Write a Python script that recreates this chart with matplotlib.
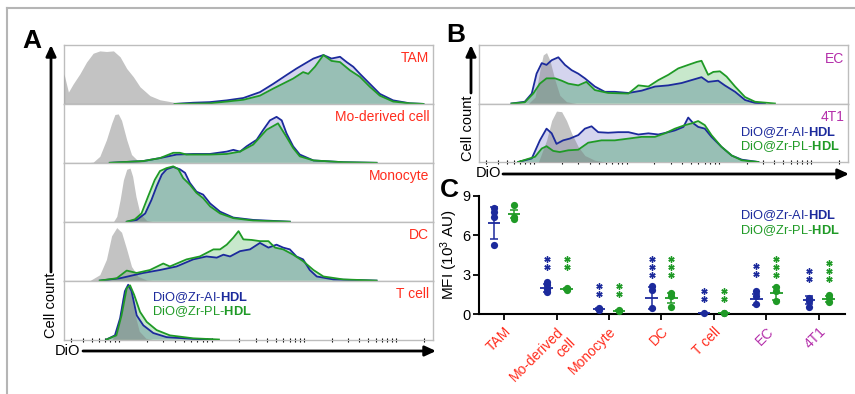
import numpy as np
import matplotlib
matplotlib.use("Agg")
import matplotlib.pyplot as plt
import matplotlib.transforms as mtransforms
from matplotlib.patches import FancyArrowPatch, Polygon
from matplotlib.lines import Line2D

plt.rcParams['font.family'] = ['Liberation Sans', 'DejaVu Sans']
plt.rcParams['mathtext.fontset'] = 'custom'
plt.rcParams['mathtext.rm'] = 'Liberation Sans'
plt.rcParams['mathtext.it'] = 'Liberation Sans:italic'
plt.rcParams['mathtext.bf'] = 'Liberation Sans:bold'
plt.rcParams['mathtext.default'] = 'regular'

# ---------------- data: panel A histograms (x: DiO channel 0-1000, y: % of max count) -------------
tam_gray_x = [0, 12, 25, 43, 61, 79, 97, 115, 134, 152, 170, 188, 206, 233, 260, 305, 370]
tam_gray_y = [51, 20, 34, 51, 71, 86, 90, 89, 90, 80, 60, 46, 29, 14, 7, 2, 0]
tam_blue_x = [300, 350, 395, 441, 486, 531, 567, 603, 630, 657, 676, 703, 725, 748, 766, 784, 802, 829, 856, 892, 937, 974]
tam_blue_y = [0, 2, 3, 6, 10, 20, 34, 49, 60, 70, 77, 83, 77, 80, 71, 63, 51, 34, 17, 6, 1, 0]
tam_green_x = [300, 395, 441, 486, 531, 567, 621, 648, 662, 680, 703, 725, 748, 775, 802, 829, 856, 892, 937, 974]
tam_green_y = [0, 1, 4, 7, 14, 26, 43, 54, 51, 63, 83, 73, 71, 57, 46, 29, 14, 4, 1, 0]

mo_gray_x = [60, 79, 97, 115, 129, 138, 147, 156, 170, 183, 201, 224]
mo_gray_y = [0, 1, 11, 39, 67, 82, 83, 72, 39, 14, 3, 0]
mo_blue_x = [124, 215, 260, 305, 350, 395, 441, 459, 477, 495, 522, 540, 558, 576, 590, 603, 621, 639, 676, 757, 847]
mo_blue_y = [0, 3, 8, 14, 15, 15, 19, 22, 19, 28, 39, 56, 72, 78, 72, 50, 28, 14, 4, 1, 0]
mo_green_x = [124, 215, 260, 296, 314, 332, 395, 441, 477, 513, 549, 580, 603, 621, 639, 676, 757, 847]
mo_green_y = [0, 3, 8, 17, 17, 14, 14, 15, 19, 31, 56, 67, 44, 25, 11, 4, 1, 0]

mono_gray_x = [134, 143, 152, 161, 170, 179, 186, 195, 206, 224, 242]
mono_gray_y = [0, 9, 37, 71, 89, 91, 77, 43, 14, 2, 0]
mono_blue_x = [170, 197, 220, 237, 251, 265, 278, 296, 314, 328, 341, 359, 377, 396, 423, 459, 513, 612]
mono_blue_y = [0, 3, 14, 37, 60, 80, 89, 93, 89, 83, 66, 51, 46, 31, 17, 7, 3, 0]
mono_green_x = [170, 192, 210, 228, 246, 260, 278, 296, 310, 323, 341, 359, 377, 396, 423, 459, 513, 612]
mono_green_y = [0, 4, 14, 43, 71, 86, 91, 94, 89, 74, 63, 49, 40, 26, 14, 6, 2, 0]

dc_gray_x = [70, 97, 115, 129, 143, 156, 170, 183, 201, 224, 242]
dc_gray_y = [0, 10, 36, 76, 90, 82, 53, 24, 7, 1, 0]
dc_blue_x = [97, 152, 215, 260, 305, 350, 386, 414, 432, 450, 477, 504, 531, 554, 576, 594, 612, 630, 648, 666, 685, 730, 847]
dc_blue_y = [0, 4, 13, 18, 24, 36, 41, 39, 44, 41, 50, 53, 64, 56, 61, 56, 53, 41, 36, 18, 7, 2, 0]
dc_green_x = [97, 143, 170, 197, 233, 269, 287, 332, 368, 405, 423, 441, 459, 473, 486, 509, 531, 554, 572, 594, 621, 648, 676, 703, 757, 847]
dc_green_y = [0, 4, 17, 13, 18, 29, 24, 36, 41, 53, 53, 61, 73, 84, 70, 69, 67, 67, 56, 53, 44, 33, 18, 7, 2, 0]

tc_gray_x = [130, 140, 150, 158, 166, 174, 182, 192, 204, 222, 240]
tc_gray_y = [0, 9, 37, 71, 89, 91, 77, 43, 14, 2, 0]
tc_blue_x = [115, 138, 152, 165, 174, 183, 197, 215, 242, 278, 350, 400]
tc_blue_y = [0, 7, 36, 82, 93, 82, 41, 24, 11, 4, 1, 0]
tc_green_x = [115, 142, 156, 170, 179, 190, 206, 224, 251, 287, 350, 420]
tc_green_y = [0, 7, 41, 87, 92, 76, 47, 30, 16, 7, 2, 0]

# ---------------- data: panel B histograms ----------------
ec_gray_x = [134, 152, 165, 174, 183, 192, 206, 219, 237, 264]
ec_gray_y = [0, 11, 57, 83, 87, 74, 40, 14, 3, 0]
ec_blue_x = [88, 124, 143, 156, 170, 183, 197, 215, 233, 251, 269, 287, 314, 341, 368, 405, 441, 477, 513, 549, 576, 603, 621, 648, 666, 694, 721, 748, 775]
ec_blue_y = [0, 3, 17, 51, 69, 66, 74, 79, 66, 57, 51, 43, 29, 20, 20, 18, 22, 29, 31, 35, 40, 45, 37, 39, 31, 20, 6, 1, 0]
ec_green_x = [88, 124, 147, 165, 183, 206, 224, 242, 269, 291, 314, 350, 405, 432, 459, 486, 513, 540, 567, 590, 603, 621, 635, 653, 671, 694, 721, 748, 802]
ec_green_y = [0, 2, 17, 34, 43, 43, 39, 34, 31, 37, 23, 18, 17, 31, 29, 40, 49, 60, 66, 71, 73, 49, 54, 55, 46, 29, 11, 3, 0]

t41_gray_x = [161, 183, 197, 210, 224, 237, 251, 269, 287, 314, 341]
t41_gray_y = [0, 37, 71, 87, 86, 71, 49, 26, 11, 3, 0]
t41_blue_x = [106, 143, 165, 183, 197, 210, 228, 246, 269, 287, 305, 323, 350, 377, 405, 432, 459, 486, 513, 531, 554, 567, 581, 594, 612, 630, 657, 685, 712, 757]
t41_blue_y = [0, 6, 37, 57, 49, 31, 37, 40, 46, 57, 61, 51, 50, 51, 51, 47, 49, 47, 51, 54, 60, 76, 66, 60, 57, 43, 26, 11, 4, 0]
t41_green_x = [106, 152, 170, 183, 201, 219, 242, 269, 296, 332, 368, 405, 441, 477, 504, 531, 558, 576, 594, 612, 630, 657, 685, 712, 757]
t41_green_y = [0, 9, 23, 27, 19, 17, 20, 21, 33, 37, 37, 40, 43, 43, 49, 57, 63, 66, 70, 63, 46, 26, 11, 3, 0]

# ---------------- data: panel C (MFI, 10^3 AU) ----------------
categories = ['TAM', 'Mo-derived\ncell', 'Monocyte', 'DC', 'T cell', 'EC', '4T1']
cat_colors = ['red', 'red', 'red', 'red', 'red', 'purple', 'purple']
blue_points = [[8.05, 7.75, 7.4, 5.25], [2.45, 2.25, 1.9, 1.7], [0.43, 0.3], [2.15, 1.8, 0.48],
               [0.05], [1.75, 1.37, 0.74], [1.24, 0.99, 0.56]]
green_points = [[8.3, 7.42, 7.25], [1.98, 1.9, 1.85], [0.3, 0.23], [1.58, 1.37, 0.56],
                [0.05, 0.08], [2.08, 1.75, 0.99], [1.45, 1.2, 0.94]]
blue_mean = [6.97, 2.0, 0.37, 1.2, 0.05, 1.14, 1.04]
blue_err = [1.22, 0.3, 0.05, 0.85, 0.02, 0.42, 0.3]
green_mean = [7.63, 1.9, 0.25, 1.25, 0.06, 1.58, 1.14]
green_err = [0.3, 0.05, 0.04, 0.38, 0.02, 0.5, 0.2]
blue_stars = [0, 2, 2, 3, 2, 2, 2]
green_stars = [0, 2, 2, 3, 2, 3, 3]
blue_star_top = [0, 4.2, 2.1, 4.2, 1.75, 3.65, 3.3]
green_star_top = [0, 4.2, 2.1, 4.2, 1.75, 4.2, 3.9]

# ---------------- styling ----------------
W, H = 855, 394
RED = '#ff2d1e'
PURPLE = '#b42eaa'
BLUE = '#1c2a9c'
GREEN = '#1f9a26'
LAV = '#d4d4ee'
LGREEN = '#c8e8cc'
TEAL = '#98bfb5'
FRAME = '#bdbdbd'
label_col = {'red': RED, 'purple': PURPLE}

fig = plt.figure(figsize=(W / 100, H / 100), dpi=100)
fig.patch.set_facecolor('white')
T = mtransforms.Affine2D().scale(1 / W, -1 / H).translate(0, 1) + fig.transFigure


def rect(l, t, r, b):
    return [l / W, 1 - b / H, (r - l) / W, (b - t) / H]


def draw_hist(ax, gx, gy, bx, by, nx, ny):
    ax.fill_between(bx, by, 0, color=LAV, lw=0, zorder=1)
    ax.fill_between(nx, ny, 0, color=LGREEN, lw=0, zorder=2)
    bpoly = Polygon(np.column_stack([bx, by]), closed=True, transform=ax.transData)
    ov = ax.fill_between(nx, ny, 0, color=TEAL, lw=0, zorder=3)
    ov.set_clip_path(bpoly)
    ax.fill_between(gx, gy, 0, color='#808080', alpha=0.47, lw=0, zorder=4)
    ax.plot(bx, by, color=BLUE, lw=1.3, zorder=5)
    ax.plot(nx, ny, color=GREEN, lw=1.3, zorder=6)
    ax.set_xlim(0, 1000)
    ax.set_ylim(0, 100)
    ax.set_xticks([])
    ax.set_yticks([])
    for s in ax.spines.values():
        s.set_color(FRAME)
        s.set_linewidth(1.0)


def log_ticks(ax):
    decades = [-100, 150, 400, 650, 900]
    pos = []
    for d in decades:
        for m in range(1, 10):
            p = d + 250 * np.log10(m)
            if 0 < p < 1000:
                pos.append(p)
    ax.set_xticks(pos)
    ax.set_xticklabels([])
    ax.tick_params(axis='x', length=2.5, width=0.8, color='black', direction='inout')


# ---------------- panel A ----------------
rowsA = [
    ('TAM', tam_gray_x, tam_gray_y, tam_blue_x, tam_blue_y, tam_green_x, tam_green_y),
    ('Mo-derived cell', mo_gray_x, mo_gray_y, mo_blue_x, mo_blue_y, mo_green_x, mo_green_y),
    ('Monocyte', mono_gray_x, mono_gray_y, mono_blue_x, mono_blue_y, mono_green_x, mono_green_y),
    ('DC', dc_gray_x, dc_gray_y, dc_blue_x, dc_blue_y, dc_green_x, dc_green_y),
    ('T cell', tc_gray_x, tc_gray_y, tc_blue_x, tc_blue_y, tc_green_x, tc_green_y),
]
topA, hA = 45, 58.9
for i, (name, gx, gy, bx, by, nx, ny) in enumerate(rowsA):
    ax = fig.add_axes(rect(64, topA + i * hA, 433, topA + (i + 1) * hA))
    draw_hist(ax, gx, gy, bx, by, nx, ny)
    ax.text(0.99, 0.71, name, transform=ax.transAxes, ha='right', va='baseline',
            color=RED, fontsize=10)
    if i == len(rowsA) - 1:
        log_ticks(ax)

# ---------------- panel B ----------------
rowsB = [
    ('EC', ec_gray_x, ec_gray_y, ec_blue_x, ec_blue_y, ec_green_x, ec_green_y),
    ('4T1', t41_gray_x, t41_gray_y, t41_blue_x, t41_blue_y, t41_green_x, t41_green_y),
]
topB, hB = 45, 58.5
for i, (name, gx, gy, bx, by, nx, ny) in enumerate(rowsB):
    ax = fig.add_axes(rect(479, topB + i * hB, 848, topB + (i + 1) * hB))
    draw_hist(ax, gx, gy, bx, by, nx, ny)
    ax.text(0.99, 0.70, name, transform=ax.transAxes, ha='right', va='baseline',
            color=PURPLE, fontsize=10)
    if i == len(rowsB) - 1:
        log_ticks(ax)

# ---------------- legends ----------------
leg1 = 'DiO@Zr-AI-$\\mathbf{HDL}$'
leg2 = 'DiO@Zr-PL-$\\mathbf{HDL}$'
for (lx, b1, b2) in [(152, 301.5, 315.5), (740, 136.5, 150.5), (740, 219.5, 234)]:
    fig.text(lx, b1, leg1, transform=T, color=BLUE, fontsize=9.3, ha='left', va='baseline')
    fig.text(lx, b2, leg2, transform=T, color=GREEN, fontsize=9.3, ha='left', va='baseline')

# ---------------- arrows and axis captions ----------------
def arrow(p0, p1):
    a = FancyArrowPatch(p0, p1, transform=T, arrowstyle='-|>,head_length=0.65,head_width=0.3',
                        mutation_scale=10, lw=2, color='black', shrinkA=0, shrinkB=0)
    fig.add_artist(a)

arrow((51, 272), (51, 45))
arrow((83, 351), (436, 351))
arrow((471, 93), (471, 45))
arrow((503, 174), (849, 174))
fig.text(51, 305, 'Cell count', transform=T, rotation=90, ha='center', va='center', fontsize=10.5)
fig.text(55, 351, 'DiO', transform=T, ha='left', va='center', fontsize=10.5)
fig.text(468, 128, 'Cell count', transform=T, rotation=90, ha='center', va='center', fontsize=10.5)
fig.text(476, 173, 'DiO', transform=T, ha='left', va='center', fontsize=10.5)

fig.text(22, 48, 'A', transform=T, fontsize=19, fontweight='bold', ha='left', va='baseline')
fig.text(446, 42, 'B', transform=T, fontsize=19, fontweight='bold', ha='left', va='baseline')
fig.text(440, 197, 'C', transform=T, fontsize=19, fontweight='bold', ha='left', va='baseline')

# outer frame (top and left)
fig.add_artist(Line2D([7, 855], [8.5, 8.5], transform=T, color='#b5b5b5', lw=1.5))
fig.add_artist(Line2D([7, 7], [8.5, 394], transform=T, color='#b5b5b5', lw=1.5))

# ---------------- panel C ----------------
axc = fig.add_axes(rect(479, 196, 845, 314))
pos = np.arange(len(categories))
off = 0.19
for i in range(len(categories)):
    for xc, pts, m, e, ns, st, col in [
        (pos[i] - off, blue_points[i], blue_mean[i], blue_err[i], blue_stars[i], blue_star_top[i], BLUE),
        (pos[i] + off, green_points[i], green_mean[i], green_err[i], green_stars[i], green_star_top[i], GREEN),
    ]:
        axc.plot([xc] * len(pts), pts, 'o', ms=5.2, color=col, mew=0, clip_on=False, zorder=3)
        axc.errorbar([xc], [m], yerr=[e], fmt='none', ecolor=col, elinewidth=1.1,
                     capsize=3, capthick=1.1, zorder=4, clip_on=False)
        axc.hlines(m, xc - 0.12, xc + 0.12, color=col, lw=1.3, zorder=4)
        if ns:
            sy = [st - 0.6 * k for k in range(ns)]
            axc.plot([xc] * ns, sy, ls='none', marker=(6, 2, 0), ms=4.5, mew=1.0,
                     color=col, zorder=4)

axc.set_xlim(-0.48, 6.5)
axc.set_ylim(0, 9)
axc.set_yticks([0, 3, 6, 9])
axc.set_xticks(pos)
axc.set_xticklabels(categories, rotation=45, ha='right', va='top', rotation_mode='anchor',
                    multialignment='right', fontsize=10)
for lab, c in zip(axc.get_xticklabels(), cat_colors):
    lab.set_color(label_col[c])
    lab.set_transform(lab.get_transform() + mtransforms.ScaledTranslation(7 / 100, 0, fig.dpi_scale_trans))
axc.tick_params(axis='both', width=1.3, length=4, labelsize=10)
axc.tick_params(axis='y', labelsize=10.5, pad=2)
for s in ['top', 'right']:
    axc.spines[s].set_visible(False)
for s in ['left', 'bottom']:
    axc.spines[s].set_linewidth(1.5)
axc.set_ylabel('MFI (10$^3$ AU)', fontsize=11, labelpad=2)

fig.savefig('out.png', dpi=100, facecolor='white')
